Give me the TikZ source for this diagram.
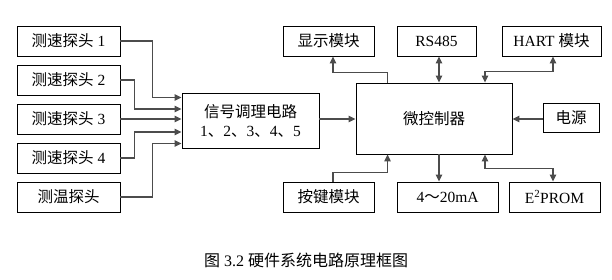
\documentclass[tikz,border=0pt]{standalone}
\usepackage{fontspec}
\setmainfont{Liberation Serif}
\newfontfamily\cjk{Noto Sans CJK SC}
\usepackage{tikz}
\usetikzlibrary{arrows.meta,positioning,calc}
\newcommand{\zh}[1]{{\cjk #1}}

\begin{document}
\begin{tikzpicture}[x=1pt, y=1pt, every node/.style={font=\fontsize{15.5}{17}\selectfont},
    block/.style={draw, line width=0.9pt, rectangle, inner sep=0pt, minimum height=30pt},
    arr/.style={draw=black!70, line width=1.1pt, -{Triangle[length=7pt,width=6.5pt]}},
    darr/.style={draw=black!70, line width=1.1pt, {Triangle[length=7pt,width=6.5pt]}-{Triangle[length=7pt,width=6.5pt]}}
  ]
    \useasboundingbox (0,0) rectangle (612,279);

    % Sonden
    \node[block, minimum width=103pt] (p1) at (68.5,238) {\zh{测速探头} 1};
    \node[block, minimum width=103pt] (p2) at (68.5,199) {\zh{测速探头} 2};
    \node[block, minimum width=103pt] (p3) at (68.5,160) {\zh{测速探头} 3};
    \node[block, minimum width=103pt] (p4) at (68.5,121) {\zh{测速探头} 4};
    \node[block, minimum width=103pt] (p5) at (68.5,82) {\zh{测温探头}};

    % Signalaufbereitung
    \node[block, minimum width=137pt, minimum height=55pt, align=center] (sig) at (250.5,158.5)
      {\zh{信号调理电路}\\[2pt]1\zh{、}2\zh{、}3\zh{、}4\zh{、}5};

    % Mikrocontroller
    \node[block, minimum width=156pt, minimum height=71pt] (mcu) at (434,160.5) {\zh{微控制器}};

    % Module oben
    \node[block, minimum width=91pt] (disp) at (328.5,238) {\zh{显示模块}};
    \node[block, minimum width=79pt] (rs) at (436.5,238) {RS485};
    \node[block, minimum width=99pt] (hart) at (551.5,238) {HART \zh{模块}};

    % Versorgung
    \node[block, minimum width=56pt, minimum height=29pt] (pwr) at (571,161.5) {\zh{电源}};

    % Module unten
    \node[block, minimum width=91pt] (key) at (328.5,82) {\zh{按键模块}};
    \node[block, minimum width=101pt] (ma) at (447.5,82) {4\zh{～}20mA};
    \node[block, minimum width=91pt] (eep) at (554.5,82) {E\textsuperscript{2}PROM};

    % Eingaenge
    \draw[arr] (p1.east) -| ([xshift=-29pt,yshift=23pt]sig.west) -- ([yshift=23pt]sig.west);
    \draw[arr] (p2.east) -| ([xshift=-47pt,yshift=11.5pt]sig.west) -- ([yshift=11.5pt]sig.west);
    \draw[arr] (p3.east) -- (p3.east -| sig.west);
    \draw[arr] (p4.east) -| ([xshift=-47pt,yshift=-11.5pt]sig.west) -- ([yshift=-11.5pt]sig.west);
    \draw[arr] (p5.east) -| ([xshift=-29pt,yshift=-23pt]sig.west) -- ([yshift=-23pt]sig.west);

    \draw[arr] ([yshift=1.5pt]sig.east) -- ([yshift=1.5pt]sig.east -| mcu.west);

    % Verbindungen oben
    \draw[arr] ([xshift=32pt]mcu.north west) |- ([xshift=4.5pt,yshift=-16pt]disp.south) -- ([xshift=4.5pt]disp.south);
    \draw[darr] ([xshift=2.5pt]rs.south) -- ([xshift=2.5pt]rs.south |- mcu.north);
    \draw[darr] ([xshift=51pt]mcu.north) |- ([xshift=1.5pt,yshift=-15pt]hart.south) -- ([xshift=1.5pt]hart.south);

    \draw[arr] ([yshift=-1.5pt]pwr.west) -- ([yshift=-1.5pt]pwr.west -| mcu.east);

    % Verbindungen unten
    \draw[arr] ([xshift=4.5pt]key.north) |- ([xshift=32pt,yshift=-18pt]mcu.south west) -- ([xshift=32pt]mcu.south west);
    \draw[arr] ([xshift=5pt]mcu.south) -- ([xshift=5pt]mcu.south |- ma.north);
    \draw[darr] ([xshift=51pt]mcu.south) |- ([xshift=-1.5pt,yshift=13pt]eep.north) -- ([xshift=-1.5pt]eep.north);

    % Bildunterschrift
    \node[font=\fontsize{16}{18}\selectfont] (cap) at (306,19) {\zh{图} 3.2 \zh{硬件系统电路原理框图}};
  \end{tikzpicture}
\end{document}
